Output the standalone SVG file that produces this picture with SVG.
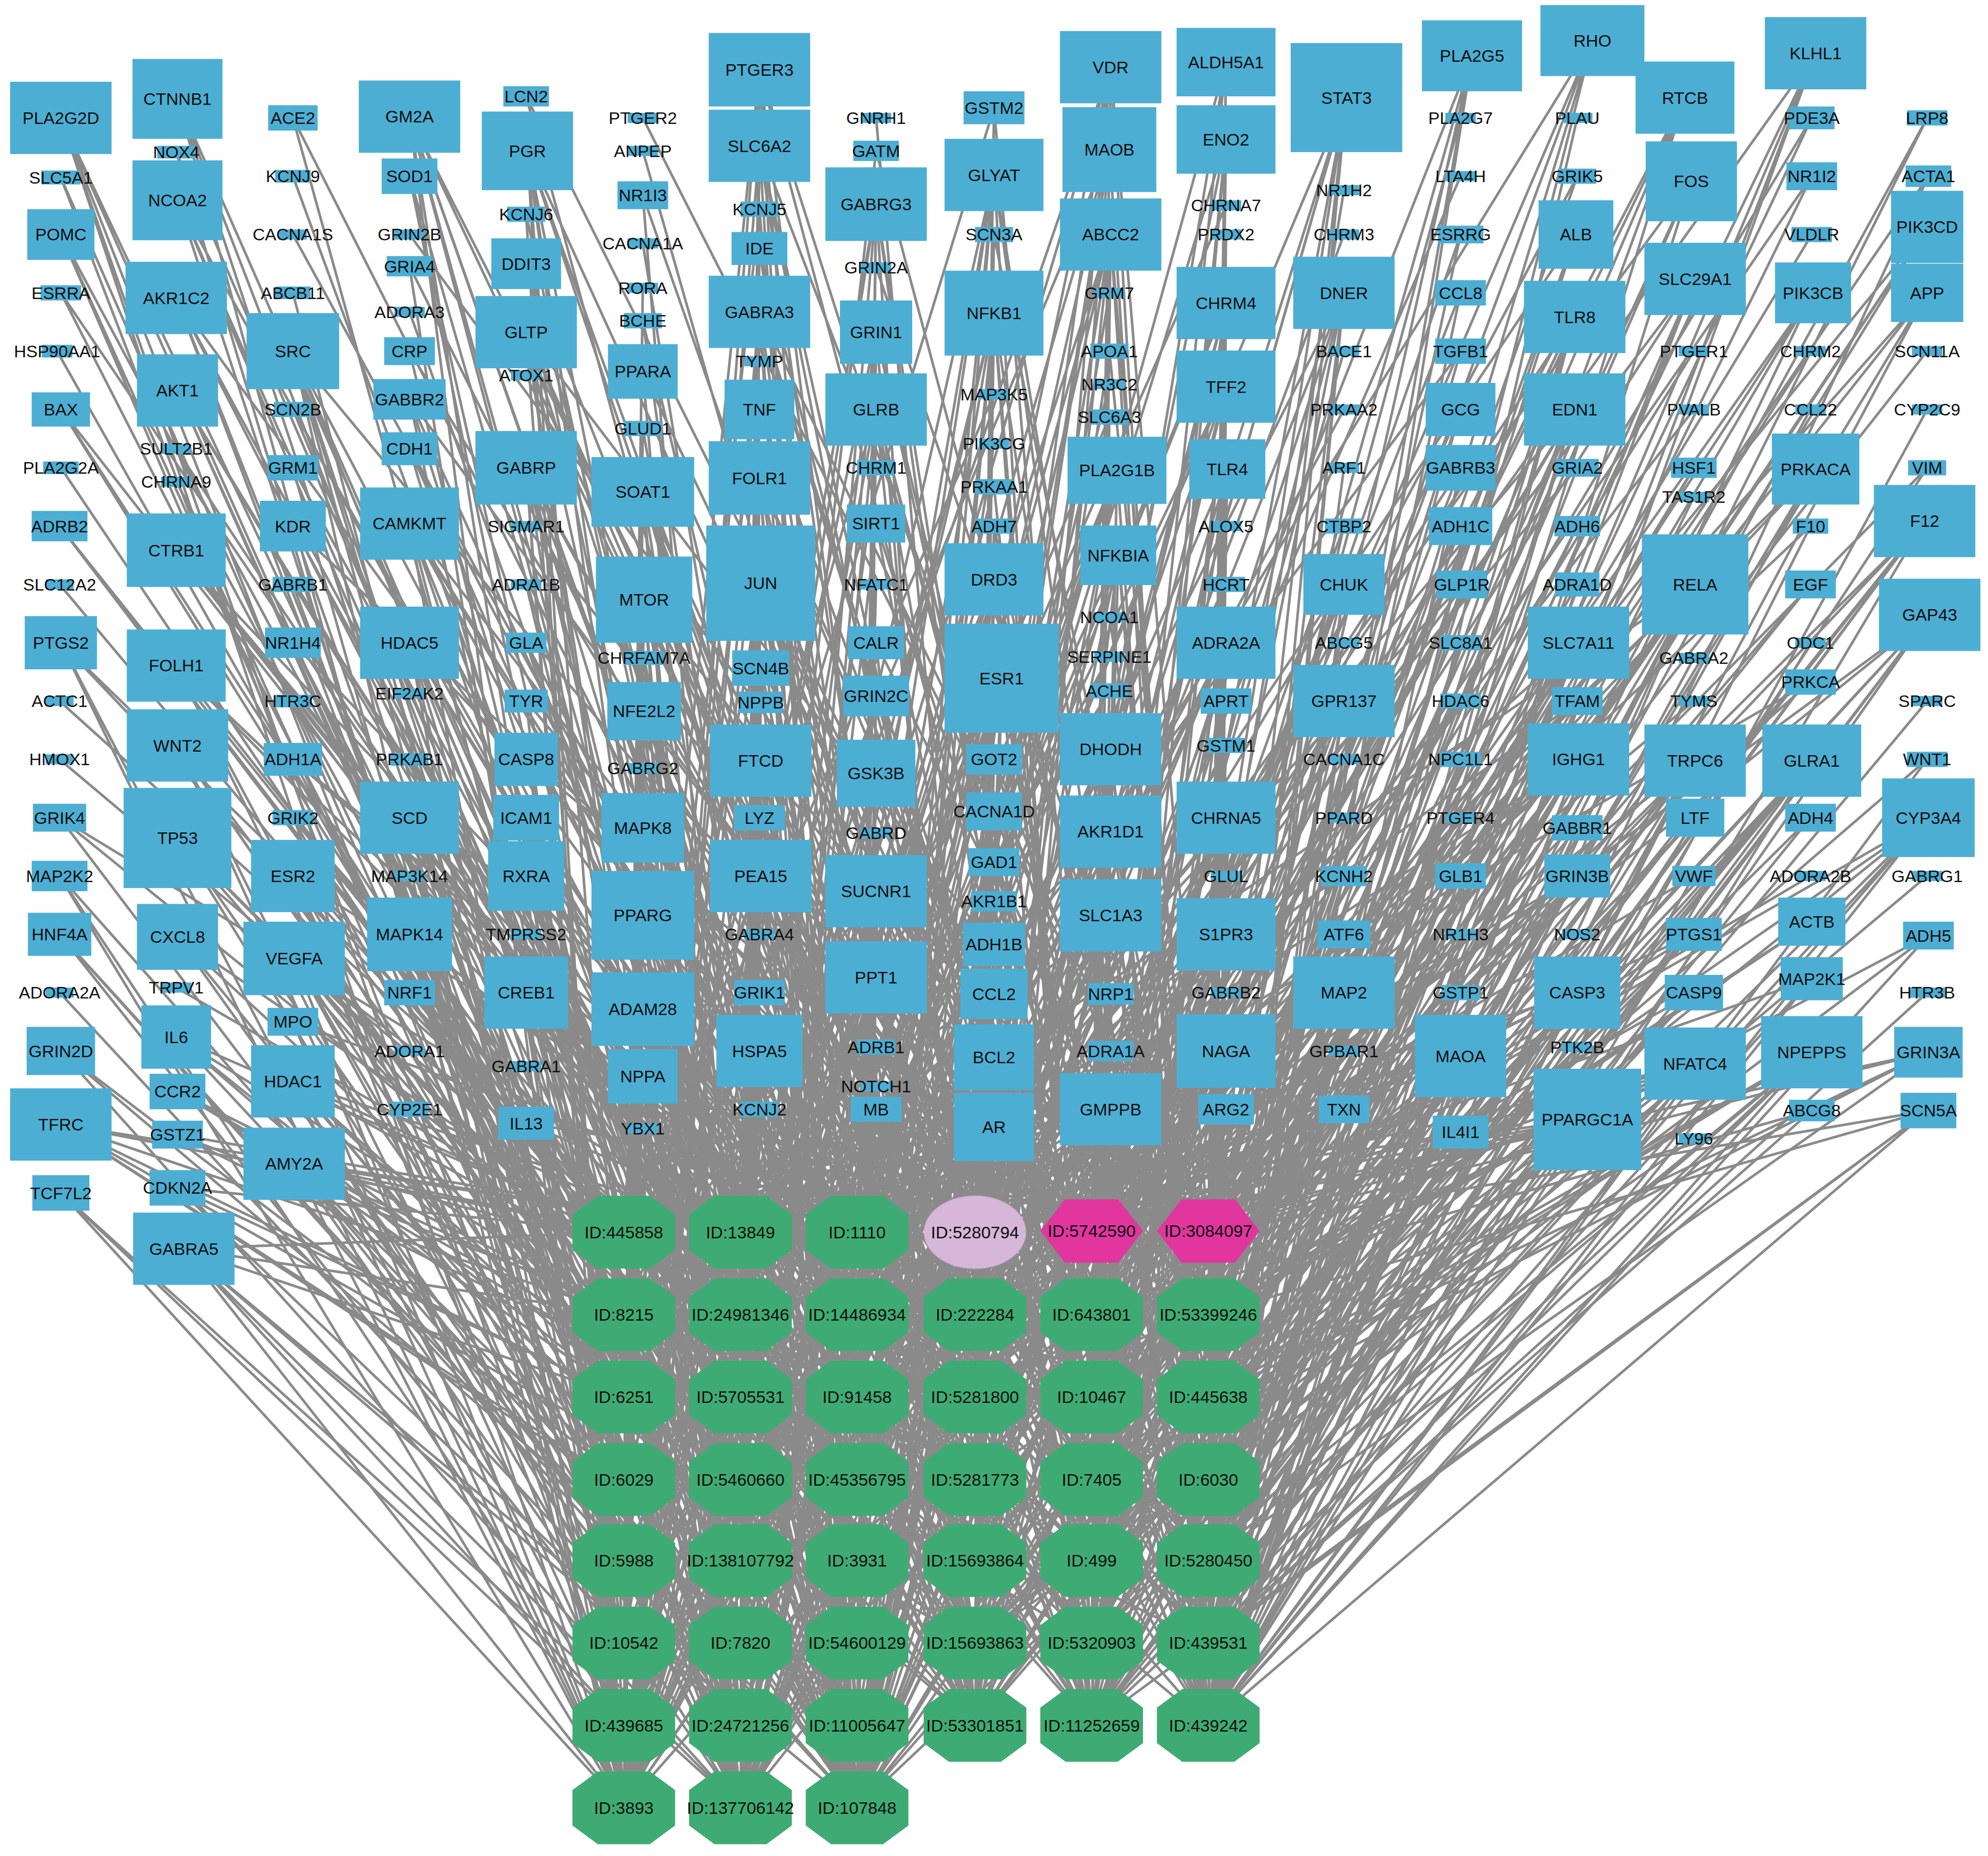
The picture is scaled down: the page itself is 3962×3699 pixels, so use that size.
<svg xmlns="http://www.w3.org/2000/svg" width="3962" height="3699" viewBox="0 0 3962 3699">
<style>
.e path{fill:none;stroke:#8a8a8a;stroke-width:2.05;stroke-linejoin:round;stroke-linecap:round}
.n rect{fill:#4daed3}
.c use{fill:#3fab74}
text{font-family:"Liberation Sans",Arial,sans-serif;font-size:13.46px;text-anchor:middle;dominant-baseline:central;fill:#0d0d0d}
</style>
<defs>
<polygon id="oct" points="-20.5,-28.7 20.5,-28.7 40.5,-14 40.5,14 20.5,28.7 -20.5,28.7 -40.5,14 -40.5,-14"/>
<polygon id="hex" points="-40.4,0 -21,-25 21,-25 40.4,0 21,25 -21,25"/>
</defs>
<rect width="3962" height="3699" fill="#ffffff"/>
<g transform="scale(2.5268,2.5266)">
<g id="connectors" class="e">
<path d="M48 93L492 1426 48 93 492 1361 48 93 584 1296 48 93 492 1231 48 93 676 1426M48 140L492 1296 48 140 584 1361M48 185L492 1167 48 185 584 1426 48 185 676 1361M48 231L492 1102 48 231 769 1296M45 277L584 1231M48 323L492 1037 48 323 676 1296 48 323 861 1361M48 369L584 1167M47 415L492 972 47 415 769 1361 47 415 676 1231M47 461L584 1102M48 507L492 1361 48 507 861 1296 48 507 492 1426 48 507 676 1167M47 553L584 1037M47 599L953 1361M47 645L492 1231 47 645 769 1231 47 645 584 972M47 691L492 1426 47 691 492 1361 47 691 584 1296M47 737L492 1231 47 737 676 1426 47 737 492 1296M47 783L584 1361M48 829L492 1167 48 829 584 1426 48 829 676 1361M48 887L492 1102 48 887 769 1296 48 887 584 1231 48 887 492 1037 48 887 676 1296M48 941L492 1426 48 941 584 1426 48 941 492 1361"/>
<path d="M140 78L584 1426 140 78 492 1361 140 78 676 1296 140 78 584 1231M139 120L492 1296 139 120 676 1361M140 158L584 1167 140 158 676 1426 140 158 492 1231 140 158 769 1296M139 235L584 1102 139 235 584 1361 139 235 492 1167 139 235 861 1231 139 235 676 1231M140 308L584 1037 140 308 492 1102 140 308 769 1361 140 308 584 1296M139 354L676 1167M139 380L492 1037M139 434L861 1296 139 434 584 972 139 434 953 1296 139 434 676 1102 139 434 769 1231M139 525L492 972 139 525 584 1361 139 525 676 1037 139 525 769 1167 139 525 584 1426M140 588L492 1361 140 588 676 1296 140 588 584 1231 140 588 492 1296 140 588 676 1361M140 661L584 1167 140 661 676 1426 140 661 492 1231 140 661 769 1296 140 661 584 1102M140 739L584 1361 140 739 492 1167 140 739 861 1231 140 739 676 1231M139 779L584 1037M139 818L492 1102 139 818 769 1361 139 818 584 1296M140 861L676 1167 140 861 492 1037 140 861 861 1296M140 895L584 972 140 895 953 1296 140 895 676 1102M140 937L769 1231 140 937 492 972 140 937 584 1361M145 985L492 1426 145 985 584 1426 145 985 676 1426 145 985 492 1361 145 985 584 1361"/>
<path d="M231 93L676 972 231 93 492 1037M231 139L584 1102M231 185L769 1167M231 231L492 1231M231 277L676 1296 231 277 584 1361 231 277 492 1426 231 277 861 1037M231 323L676 1102 231 323 584 1167M231 369L492 1296 231 369 769 1361M231 415L584 1426 231 415 676 1231 231 415 953 1102M231 461L492 1167 231 461 769 1296M231 507L584 1231 231 507 676 1361 231 507 861 1167M231 553L584 1037 231 553 492 1102M231 599L953 1231 231 599 676 1426 231 599 769 1037M231 645L584 1296 231 645 861 1361M231 691L492 1361 231 691 676 1167 231 691 676 972 231 691 492 1037M232 756L584 1102 232 756 769 1167 232 756 492 1231 232 756 676 1296 232 756 584 1361M231 806L492 1426 231 806 861 1037M231 853L676 1102 231 853 584 1167 231 853 492 1296 231 853 769 1361M232 918L584 1426 232 918 676 1231 232 918 953 1102 232 918 492 1167 232 918 769 1296"/>
<path d="M323 92L769 972 323 92 584 1037 323 92 676 1102 323 92 492 1167 323 92 861 1231M323 139L584 1296 323 139 676 1361 323 139 584 1426M323 185L953 1037M323 210L769 1102 323 210 492 1296M323 246L676 1231M323 277L861 1167 323 277 584 1361M323 315L769 1296 323 315 676 1426 323 315 492 1102 323 315 953 1167M323 354L584 1231 323 354 769 1361 323 354 676 1037M323 413L861 1296 323 413 492 1361 323 413 584 1167 323 413 953 1231 323 413 676 972M323 507L769 1231 323 507 861 1361 323 507 492 1426 323 507 584 1102 323 507 769 972M323 547L584 1037M323 599L676 1102 323 599 492 1167M323 645L861 1231 323 645 584 1296 323 645 676 1361 323 645 584 1426 323 645 953 1037M323 691L769 1102M323 737L492 1296 323 737 676 1231 323 737 861 1167 323 737 584 1361M323 783L769 1296 323 783 676 1426M323 829L492 1102M323 875L953 1167 323 875 584 1231"/>
<path d="M415 76L861 972 415 76 676 1037M416 119L492 1102 416 119 769 1167 416 119 584 1231 416 119 953 1296M415 169L676 1361 415 169 492 1426M415 208L584 1037 415 208 769 1102 415 208 676 1167M415 262L861 1231 415 262 492 1296 415 262 584 1361 415 262 676 1426 415 262 953 972M415 296L769 1037M415 369L584 1102 415 369 861 1167 415 369 676 1231 415 369 492 1361 415 369 769 1296M415 415L953 1102M415 461L584 1167M415 507L676 1296 415 507 861 1361M415 553L492 1231 415 553 769 972M415 599L584 1426 415 599 953 1231 415 599 861 972M415 645L676 1037 415 645 492 1102 415 645 769 1167M415 691L584 1231 415 691 953 1296 415 691 676 1361 415 691 492 1426M415 737L584 1037M415 783L769 1102 415 783 676 1167 415 783 861 1231 415 783 492 1296M415 841L584 1361M415 886L676 1426 415 886 953 972 415 886 769 1037"/>
<path d="M507 93L953 972M507 119L769 1037M507 154L584 1102 507 154 861 1167M507 192L676 1231M507 227L492 1296M507 253L769 1361 507 253 676 1426M507 293L861 1037 507 293 584 1167 507 293 953 1231M507 338L676 1296 507 338 492 1361M507 388L769 1102 507 388 584 1231 507 388 861 1296 507 388 953 1361 507 388 676 972M508 473L492 1167 508 473 769 1231 508 473 584 1296 508 473 953 1037 508 473 861 1102M508 519L676 1361 508 519 584 1426M508 561L769 1296 508 561 492 1231 508 561 953 1167 508 561 676 1102M507 606L861 972M507 653L953 972 507 653 769 1037 507 653 584 1102 507 653 861 1167M507 722L676 1231 507 722 492 1296 507 722 769 1361 507 722 676 1426 507 722 861 1037M507 796L584 1167 507 796 953 1231 507 796 676 1296 507 796 492 1361 507 796 769 1102M507 849L584 1231 507 849 861 1296 507 849 953 1361M507 890L676 972"/>
<path d="M599 55L676 972 599 55 861 1037 599 55 492 1102 599 55 953 1167 599 55 584 1231M599 115L769 1296 599 115 676 1361 599 115 584 1426 599 115 769 972 599 115 953 1037M599 165L676 1102 599 165 492 1167M599 196L861 1231 599 196 584 1296 599 196 769 1361M599 246L676 1426 599 246 953 972 599 246 584 1037 599 246 861 1102 599 246 676 1167M599 285L492 1231M599 323L953 1296 599 323 584 1361 599 323 492 1426M599 377L861 972 599 377 769 1102 599 377 584 1167 599 377 953 1231 599 377 676 1296M600 460L861 1361 600 460 676 972 600 460 861 1037 600 460 492 1102 600 460 953 1167M600 527L584 1231 600 527 769 1296 600 527 676 1361M600 554L584 1426 600 554 769 972M600 600L953 1037 600 600 676 1102 600 600 492 1167 600 600 861 1231 600 600 584 1296M599 645L769 1361 599 645 676 1426M600 691L953 972 600 691 584 1037 600 691 861 1102 600 691 676 1167 600 691 492 1231M599 737L953 1296M599 783L584 1361 599 783 492 1426M599 829L861 972 599 829 769 1102 599 829 584 1167 599 829 953 1231M599 875L676 1296 599 875 861 1361"/>
<path d="M691 93L769 972M691 119L584 1037 691 119 953 1102M691 161L676 1167 691 161 861 1231 691 161 492 1296 691 161 769 1361 691 161 676 1426M691 211L953 972M691 262L861 1037 691 262 584 1102 691 262 769 1167 691 262 492 1231M691 323L953 1296 691 323 676 1361 691 323 861 972 691 323 492 1037 691 323 769 1102M691 369L584 1167M691 413L953 1231 691 413 861 1296 691 413 584 1361M691 461L676 972M691 507L953 1037 691 507 769 1231 691 507 492 1102M691 549L861 1167 691 549 676 1296 691 549 953 1361M691 610L584 972 691 610 769 972 691 610 584 1037 691 610 953 1102M691 657L676 1167M691 703L861 1231 691 703 492 1296 691 703 769 1361 691 703 676 1426 691 703 953 972M691 771L861 1037 691 771 584 1102 691 771 769 1167 691 771 492 1231 691 771 953 1296M691 826L676 1361M691 857L861 972M691 875L492 1037 691 875 769 1102"/>
<path d="M784 85L861 972 784 85 492 1037 784 85 769 1102M784 138L953 1167 784 138 676 1231 784 138 584 1296 784 138 861 1361 784 138 492 1426M784 185L769 972 784 185 953 1037M784 247L584 1102 784 247 861 1167 784 247 769 1231 784 247 676 1296 784 247 953 1361M784 311L492 972M784 350L676 1037M784 384L861 1102 784 384 584 1167M784 415L953 1231 784 415 769 1296M784 457L492 1361 784 457 584 972 784 457 861 1037 784 457 953 1102 784 457 676 1167M790 535L769 1361 790 535 584 1231 790 535 953 972 790 535 492 1102 790 535 861 972M784 599L492 1037 784 599 769 1102 784 599 953 1167M784 640L676 1231 784 640 584 1296 784 640 861 1361M784 680L492 1426 784 680 769 972 784 680 953 1037M784 711L584 1102 784 711 861 1167M784 745L769 1231 784 745 676 1296 784 745 953 1361M784 784L492 972 784 784 676 1037 784 784 861 1102M784 834L584 1167 784 834 953 1231 784 834 769 1296 784 834 492 1361M784 889L584 972 784 889 861 1037 784 889 953 1102 784 889 676 1167"/>
<path d="M876 53L953 972 876 53 584 1037 876 53 861 1102 876 53 492 1167 876 53 769 1231M875 118L953 1296 875 118 676 1361 875 118 584 1426 875 118 861 972 875 118 492 1037M876 185L953 1102 876 185 769 1167 876 185 584 1231 876 185 861 1296 876 185 492 1361M875 231L676 1426M875 277L953 1037 875 277 769 972M875 303L676 1102M875 329L861 1167 875 329 492 1231M881 371L584 1296 881 371 953 1361 881 371 676 972 881 371 769 1037 881 371 584 1102M882 438L953 1167 882 438 861 1231 882 438 492 1296 882 438 769 1361M875 487L953 972M875 518L584 1037M875 545L861 1102 875 545 492 1167M876 591L769 1231 876 591 953 1296 876 591 676 1361 876 591 584 1426 876 591 861 972M876 656L492 1037 876 656 953 1102 876 656 769 1167 876 656 584 1231 876 656 861 1296M876 722L492 1361 876 722 676 1426 876 722 953 1037 876 722 769 972 876 722 676 1102M876 784L861 1167 876 784 492 1231M876 829L584 1296 876 829 953 1361M876 875L676 972 876 875 769 1037 876 875 584 1102 876 875 953 1167 876 875 861 1231"/>
<path d="M967 49L953 972 967 49 861 1037 967 49 676 1102 967 49 953 1167 967 49 769 1231M967 110L861 1296 967 110 584 1361 967 110 953 1037 967 110 769 1102 967 110 861 1167M967 162L492 1231M967 185L953 1296M967 239L676 1361 967 239 861 972 967 239 769 1037 967 239 953 1102 967 239 584 1167M967 305L861 1231 967 305 953 1361 967 305 676 972 967 305 769 1167 967 305 492 1296M968 370L953 1231 968 370 861 1102 968 370 676 1037 968 370 769 1296M967 415L953 972M967 461L584 1231 967 461 861 1361M967 507L676 1167 967 507 953 972 967 507 861 1037 967 507 676 1102 967 507 953 1167M967 553L769 1231 967 553 861 1296M967 588L584 1361 967 588 953 1037M967 645L769 1102 967 645 861 1167 967 645 492 1231 967 645 953 1296 967 645 676 1361M967 691L861 972M967 737L769 1037 967 737 953 1102 967 737 584 1167 967 737 861 1231 967 737 953 1361M967 783L676 972M967 829L769 1167 967 829 492 1296 967 829 953 1231 967 829 861 1102 967 829 676 1037M967 875L769 1296 967 875 953 972 967 875 584 1231"/>
<path d="M1062 77L953 1037 1062 77 769 1102 1062 77 861 1167 1062 77 953 1231 1062 77 676 1296M1060 150L861 1361M1060 185L769 972M1060 231L953 1102 1060 231 584 1167 1060 231 861 1231 1060 231 953 1296 1060 231 769 1361M1060 277L861 972M1060 323L676 1037M1060 369L953 1167M1060 415L769 1231 1060 415 861 1296M1060 461L953 1361 1060 461 676 1102 1060 461 861 1037 1060 461 769 1167M1060 507L953 972M1060 553L584 1231 1060 553 861 1102 1060 553 492 1361 1060 553 953 1231 1060 553 769 1037M1060 599L676 1167M1060 645L861 972M1060 691L953 1102 1060 691 953 1037M1060 737L769 1102 1060 737 861 1167 1060 737 953 1231M1060 783L676 1296 1060 783 861 1361 1060 783 769 972 1060 783 953 1102 1060 783 584 1167M1060 829L861 1231M1060 875L953 1296 1060 875 769 1361"/>
<path d="M1161 44L953 972 1161 44 861 1102 1161 44 953 1231 1161 44 769 1037 1161 44 953 1361M1152 93L861 1167M1152 139L676 1231M1152 185L953 1102 1152 185 769 1296M1152 231L861 972 1152 231 953 1167M1152 277L584 1037 1152 277 861 1296M1152 323L953 1037 1152 323 769 1167 1152 323 861 1231M1152 369L953 1296 1152 369 676 1102 1152 369 769 1361M1152 415L953 972 1152 415 861 1037 1152 415 769 1231M1153 461L953 1102 1153 461 676 972M1152 507L861 1361 1152 507 953 1167M1152 553L769 1102 1152 553 584 1231M1152 599L953 1231 1152 599 861 1296M1152 645L953 972M1152 691L861 1102 1152 691 953 1231M1152 737L769 1037M1152 783L953 1361 1152 783 861 1167M1152 833L676 1231 1152 833 953 1102 1152 833 769 1296 1152 833 861 972M1152 893L953 1167 1152 893 584 1037 1152 893 861 1296"/>
<path d="M1256 32L953 1037 1256 32 861 1102 1256 32 769 1167 1256 32 953 1231 1256 32 676 972M1244 93L953 1361M1244 139L861 1231 1244 139 769 1037M1243 185L953 1102 1243 185 584 1167 1243 185 861 1296 1243 185 953 972M1242 250L769 1231 1242 250 953 1296 1242 250 676 1102 1242 250 861 1037 1242 250 953 1167M1242 323L769 1361 1242 323 861 972 1242 323 584 1102 1242 323 953 1231 1242 323 769 1102M1244 369L861 1361 1244 369 676 1037M1244 415L953 1037 1244 415 861 1167M1244 461L769 1296 1244 461 953 1361M1245 507L492 1167 1245 507 861 1102 1245 507 953 1037 1245 507 769 1167 1245 507 953 1231M1244 553L676 972 1244 553 953 1361 1244 553 861 1231M1245 599L769 1037 1245 599 953 1102 1245 599 584 1167 1245 599 861 1296 1245 599 953 972M1244 653L769 1231 1244 653 953 1296M1244 691L676 1102 1244 691 861 1037 1244 691 953 1167M1244 737L769 1361M1244 783L861 972 1244 783 584 1102 1244 783 953 1231 1244 783 769 1102M1244 826L861 1361M1252 883L676 1037 1252 883 953 1037 1252 883 861 1167 1252 883 769 1296 1252 883 953 1361"/>
<path d="M1329 77L953 1102 1329 77 861 1167 1329 77 769 1231 1329 77 953 1296 1329 77 861 972M1334 143L953 1361 1334 143 676 1037 1334 143 861 1231 1334 143 953 972M1337 220L769 1102 1337 220 953 1167 1337 220 861 1296 1337 220 769 972 1337 220 953 1231M1336 277L861 1037M1336 323L676 1167M1336 369L953 1037 1336 369 769 1296M1336 392L861 1361M1337 461L953 1102 1337 461 584 972 1337 461 861 1102 1337 461 953 1361 1337 461 769 1037M1336 519L953 1231M1336 553L676 1102M1337 600L861 1167 1337 600 953 1296 1337 600 769 1167 1337 600 861 972 1337 600 953 1102M1337 645L861 1167 1337 645 769 1231 1337 645 953 1296M1336 691L861 972 1336 691 953 1361M1336 737L676 1037 1336 737 861 1231 1336 737 953 972M1336 783L769 1102 1336 783 953 1167 1336 783 861 1296M1337 839L769 972 1337 839 953 1231 1337 839 861 1037 1337 839 676 1167 1337 839 953 1037M1336 898L769 1296"/>
<path d="M1432 42L953 1167 1432 42 861 1231 1432 42 953 1296 1432 42 769 972 1432 42 953 1361M1429 93L861 1037 1429 93 953 1102M1429 139L676 1231 1429 139 861 1296M1429 185L953 972M1430 231L769 1167 1430 231 953 1231 1430 231 861 1102 1430 231 953 1037M1428 277L769 1296M1428 323L861 1361M1432 370L953 1167 1432 370 676 1102 1432 370 861 972 1432 370 953 1231M1428 415L769 1037 1428 415 953 1361M1428 461L861 1167 1428 461 769 1231M1428 507L953 1296M1428 538L861 1037 1428 538 676 972M1429 600L953 1102 1429 600 769 1361 1429 600 861 1231 1429 600 953 1167 1429 600 861 1296M1428 645L953 1231 1428 645 769 1296M1428 691L953 972M1429 728L861 1102 1429 728 953 1037 1429 728 769 1167M1429 772L953 1361 1429 772 861 972 1429 772 953 1296M1429 830L769 1231 1429 830 953 1102 1429 830 861 1167 1429 830 953 1231 1429 830 861 1361M1429 876L953 1296 1429 876 861 1037"/>
<path d="M1520 93L953 1231 1520 93 861 1296M1521 139L953 1361 1521 139 953 972M1520 179L769 1102 1520 179 953 1037 1520 179 861 1167 1520 179 953 1102M1520 231L676 1296 1520 231 953 1167 1520 231 861 972 1520 231 953 1296M1520 277L769 1231M1520 323L953 1361M1520 369L861 1037 1520 369 953 1231M1518 411L861 1102 1518 411 769 1361 1518 411 953 972 1518 411 861 1231 1518 411 953 1167M1522 485L676 1167 1522 485 953 1102 1522 485 861 1361 1522 485 953 1296 1522 485 769 1037M1520 553L953 1231M1520 599L861 1167 1520 599 953 1361M1521 645L861 1296 1521 645 953 972 1521 645 861 1102 1521 645 953 1102M1520 691L953 1167M1521 738L953 1037 1521 738 861 1231 1521 738 953 1361M1520 783L953 1296M1521 830L953 1231 1521 830 861 1167 1521 830 953 1102M1521 876L953 1361 1521 876 953 1296 1521 876 861 1361"/>
<path d="M231 277L584 1426 231 277 676 1361 231 277 769 1296 231 277 492 1231M231 691L584 1426 231 691 676 1426 231 691 492 1296M232 756L492 1426 232 756 676 1426 232 756 769 1361M231 853L492 1426 231 853 584 1426 231 853 676 1361M232 918L492 1426 232 918 584 1361 232 918 676 1426M323 92L492 1426 323 92 676 1426 323 92 769 1361M323 413L584 1426 323 413 676 1296 323 413 769 1231M323 507L676 1426 323 507 584 1361 323 507 492 1231M323 645L492 1426 323 645 676 1426 323 645 769 1361 323 645 492 1361M323 737L492 1426 323 737 584 1426 323 737 676 1426M416 119L492 1426 416 119 584 1361 416 119 676 1426 416 119 861 1361M415 262L584 1426 415 262 769 1361 415 262 861 1296M415 369L492 1426 415 369 584 1426 415 369 676 1426 415 369 953 1361M415 691L584 1426 415 691 676 1426 415 691 769 1361 415 691 861 1361M415 783L492 1426 415 783 584 1426 415 783 676 1426 415 783 769 1361M507 388L492 1426 507 388 676 1426 507 388 584 1361 507 388 769 1296M508 473L492 1426 508 473 584 1426 508 473 676 1361 508 473 861 1361M508 561L492 1426 508 561 584 1426 508 561 676 1426 508 561 861 1296M507 653L492 1426 507 653 676 1426 507 653 769 1361 507 653 953 1361M507 722L492 1426 507 722 584 1426 507 722 953 1296 507 722 861 1361M507 796L492 1426 507 796 584 1426 507 796 676 1426 507 796 861 1296M507 849L492 1426 507 849 584 1426 507 849 676 1426"/>
<path d="M599 55L492 1426 599 55 676 1426 599 55 769 1361M599 115L492 1426 599 115 584 1361 599 115 861 1296M599 246L492 1426 599 246 584 1426 599 246 769 1361 599 246 953 1361M599 377L492 1426 599 377 584 1426 599 377 676 1426 599 377 769 1361M600 460L492 1426 600 460 584 1426 600 460 676 1426 600 460 769 1296 600 460 953 1361M600 600L492 1426 600 600 676 1426 600 600 769 1361 600 600 953 1361M600 691L492 1426 600 691 584 1426 600 691 676 1426 600 691 861 1361M599 829L492 1426 599 829 584 1426 599 829 676 1426 599 829 769 1361M691 161L492 1426 691 161 584 1426 691 161 861 1361M691 262L584 1426 691 262 676 1426 691 262 953 1361M691 323L492 1426 691 323 584 1426 691 323 676 1426 691 323 861 1296M691 610L492 1426 691 610 584 1426 691 610 676 1426 691 610 861 1361M691 703L492 1426 691 703 584 1426 691 703 676 1361 691 703 953 1361M691 771L492 1426 691 771 584 1426 691 771 676 1426 691 771 861 1361M784 138L584 1426 784 138 676 1426 784 138 953 1361M784 247L492 1426 784 247 584 1426 784 247 676 1426 784 247 861 1296M784 457L492 1426 784 457 584 1426 784 457 676 1426 784 457 769 1361M790 535L492 1426 790 535 584 1426 790 535 676 1426 790 535 953 1361 790 535 861 1296M784 784L584 1426 784 784 676 1426 784 784 861 1361M784 834L492 1426 784 834 584 1426 784 834 676 1426 784 834 861 1361M784 889L492 1426 784 889 584 1426 784 889 676 1426 784 889 769 1361"/>
<path d="M876 53L584 1426 876 53 676 1426 876 53 953 1361M875 118L492 1426 875 118 676 1426 875 118 769 1361M876 185L584 1426 876 185 676 1426 876 185 953 1361M881 371L492 1426 881 371 676 1426 881 371 861 1361M882 438L584 1426 882 438 676 1426 882 438 953 1296M876 591L492 1426 876 591 676 1426 876 591 861 1361 876 591 953 1361M876 656L492 1426 876 656 584 1426 876 656 676 1426 876 656 769 1361M876 722L584 1426 876 722 861 1361 876 722 953 1296M876 875L492 1426 876 875 584 1426 876 875 676 1426 876 875 861 1361M967 239L492 1426 967 239 676 1426 967 239 953 1361M967 305L584 1426 967 305 676 1426 967 305 861 1361M967 507L492 1426 967 507 584 1426 967 507 769 1361 967 507 861 1361M967 645L584 1426 967 645 676 1426 967 645 861 1361 967 645 953 1361M967 737L492 1426 967 737 584 1426 967 737 676 1426 967 737 769 1296M967 829L584 1426 967 829 676 1426 967 829 769 1361 967 829 953 1296M1062 77L492 1426 1062 77 676 1426 1062 77 861 1361M1060 231L584 1426 1060 231 676 1426 1060 231 953 1361M1060 553L584 1426 1060 553 676 1426 1060 553 861 1361 1060 553 953 1361M1060 783L492 1426 1060 783 676 1426 1060 783 953 1361M1060 461L676 1426 1060 461 861 1296 1060 461 953 1296M1152 833L676 1426 1152 833 861 1361 1152 833 953 1361M1245 507L676 1426 1245 507 861 1361 1245 507 953 1296M1245 599L584 1426 1245 599 769 1361 1245 599 953 1361M1244 783L676 1426 1244 783 861 1296 1244 783 953 1361M1252 883L676 1426 1252 883 861 1361 1252 883 953 1296M1242 250L676 1426 1242 250 861 1361 1242 250 953 1361M1242 323L584 1426 1242 323 861 1296 1242 323 953 1296M1337 461L676 1426 1337 461 861 1361 1337 461 953 1296M1337 600L769 1361 1337 600 861 1361 1337 600 953 1361M1337 839L861 1361 1337 839 953 1361 1337 839 769 1296M1429 600L953 1361 1429 600 861 1361 1429 600 769 1296M1429 830L953 1361 1429 830 953 1296 1429 830 861 1296M1518 411L953 1361 1518 411 861 1296M1522 485L953 1231 1522 485 769 1296M1521 645L953 1361 1521 645 953 1296 1521 645 861 1361"/>
<path d="M507 796L492 972 507 796 584 972 507 796 676 1037M507 849L492 1037 507 849 769 972M599 829L492 972 599 829 676 972 599 829 584 1037M691 771L492 972 691 771 584 972 691 771 676 972 691 771 769 1037M784 889L492 1037 784 889 769 972 784 889 861 972M784 834L676 972 784 834 492 1102M876 875L492 972 876 875 584 972 876 875 769 972M967 829L492 972 967 829 584 1037 967 829 861 972M1060 783L492 972 1060 783 676 972 1060 783 861 1037M1060 875L676 1037 1060 875 861 972M1152 833L584 972 1152 833 769 972 1152 833 953 1037M1252 883L584 972 1252 883 769 972 1252 883 861 972 1252 883 953 972M1244 783L676 972 1244 783 861 972M1337 839L861 972 1337 839 953 972 1337 839 953 1102M691 703L492 972 691 703 584 1037M600 691L492 972 600 691 676 972M507 722L492 972 507 722 584 972 507 722 769 972M415 783L492 972 415 783 584 972M232 918L492 972 232 918 584 972 232 918 492 1037M231 853L492 972 231 853 584 972M139 818L492 972 139 818 492 1037M48 887L492 972 48 887 584 972M145 985L492 972 145 985 492 1037 145 985 492 1102M967 737L676 972 967 737 861 1037M876 722L584 972 876 722 861 972M790 535L676 972 790 535 769 1037 790 535 584 1037M600 460L584 972 600 460 769 972M1521 830L861 972 1521 830 953 972M1521 876L953 972 1521 876 953 1037M1244 691L769 972 1244 691 861 972M1245 599L676 972 1245 599 769 972"/>
</g>
<g id="genes">
<g id="PLA2G2D" class="n" transform="translate(48 93)"><rect x="-40" y="-28.5" width="80" height="57"/><text>PLA2G2D</text></g>
<g id="SLC5A1" class="n" transform="translate(48 140)"><rect x="-15.5" y="-5.5" width="31" height="11"/><text>SLC5A1</text></g>
<g id="POMC" class="n" transform="translate(48 185)"><rect x="-26.5" y="-20" width="53" height="40"/><text>POMC</text></g>
<g id="ESRRA" class="n" transform="translate(48 231)"><rect x="-16" y="-6" width="32" height="12"/><text>ESRRA</text></g>
<g id="HSP90AA1" class="n" transform="translate(45 277)"><rect x="-12" y="-5" width="24" height="10"/><text>HSP90AA1</text></g>
<g id="BAX" class="n" transform="translate(48 323)"><rect x="-23" y="-13.5" width="46" height="27"/><text>BAX</text></g>
<g id="PLA2G2A" class="n" transform="translate(48 369)"><rect x="-14" y="-5" width="28" height="10"/><text>PLA2G2A</text></g>
<g id="ADRB2" class="n" transform="translate(47 415)"><rect x="-22" y="-12" width="44" height="24"/><text>ADRB2</text></g>
<g id="SLC12A2" class="n" transform="translate(47 461)"><rect x="-11" y="-4" width="22" height="8"/><text>SLC12A2</text></g>
<g id="PTGS2" class="n" transform="translate(48 507)"><rect x="-28.5" y="-21" width="57" height="42"/><text>PTGS2</text></g>
<g id="ACTC1" class="n" transform="translate(47 553)"><rect x="-11" y="-4" width="22" height="8"/><text>ACTC1</text></g>
<g id="HMOX1" class="n" transform="translate(47 599)"><rect x="-11" y="-4" width="22" height="8"/><text>HMOX1</text></g>
<g id="GRIK4" class="n" transform="translate(47 645)"><rect x="-21" y="-11" width="42" height="22"/><text>GRIK4</text></g>
<g id="MAP2K2" class="n" transform="translate(47 691)"><rect x="-22" y="-12" width="44" height="24"/><text>MAP2K2</text></g>
<g id="HNF4A" class="n" transform="translate(47 737)"><rect x="-25" y="-17" width="50" height="34"/><text>HNF4A</text></g>
<g id="ADORA2A" class="n" transform="translate(47 783)"><rect x="-11" y="-4" width="22" height="8"/><text>ADORA2A</text></g>
<g id="GRIN2D" class="n" transform="translate(48 829)"><rect x="-27" y="-19" width="54" height="38"/><text>GRIN2D</text></g>
<g id="TFRC" class="n" transform="translate(48 887)"><rect x="-40" y="-28.5" width="80" height="57"/><text>TFRC</text></g>
<g id="TCF7L2" class="n" transform="translate(48 941)"><rect x="-22.5" y="-14" width="45" height="28"/><text>TCF7L2</text></g>
<g id="CTNNB1" class="n" transform="translate(140 78)"><rect x="-35.5" y="-31.5" width="71" height="63"/><text>CTNNB1</text></g>
<g id="NOX4" class="n" transform="translate(139 120)"><rect x="-15" y="-5" width="30" height="10"/><text>NOX4</text></g>
<g id="NCOA2" class="n" transform="translate(140 158)"><rect x="-35.5" y="-31.5" width="71" height="63"/><text>NCOA2</text></g>
<g id="AKR1C2" class="n" transform="translate(139 235)"><rect x="-40" y="-28.5" width="80" height="57"/><text>AKR1C2</text></g>
<g id="AKT1" class="n" transform="translate(140 308)"><rect x="-32" y="-28.5" width="64" height="57"/><text>AKT1</text></g>
<g id="SULT2B1" class="n" transform="translate(139 354)"><rect x="-12" y="-4" width="24" height="8"/><text>SULT2B1</text></g>
<g id="CHRNA9" class="n" transform="translate(139 380)"><rect x="-12" y="-4" width="24" height="8"/><text>CHRNA9</text></g>
<g id="CTRB1" class="n" transform="translate(139 434)"><rect x="-39" y="-29" width="78" height="58"/><text>CTRB1</text></g>
<g id="FOLH1" class="n" transform="translate(139 525)"><rect x="-39" y="-28.5" width="78" height="57"/><text>FOLH1</text></g>
<g id="WNT2" class="n" transform="translate(140 588)"><rect x="-40" y="-28.5" width="80" height="57"/><text>WNT2</text></g>
<g id="TP53" class="n" transform="translate(140 661)"><rect x="-42.5" y="-39.5" width="85" height="79"/><text>TP53</text></g>
<g id="CXCL8" class="n" transform="translate(140 739)"><rect x="-32" y="-26" width="64" height="52"/><text>CXCL8</text></g>
<g id="TRPV1" class="n" transform="translate(139 779)"><rect x="-12" y="-4" width="24" height="8"/><text>TRPV1</text></g>
<g id="IL6" class="n" transform="translate(139 818)"><rect x="-27.5" y="-25" width="55" height="50"/><text>IL6</text></g>
<g id="CCR2" class="n" transform="translate(140 861)"><rect x="-22" y="-14" width="44" height="28"/><text>CCR2</text></g>
<g id="GSTZ1" class="n" transform="translate(140 895)"><rect x="-20" y="-11" width="40" height="22"/><text>GSTZ1</text></g>
<g id="CDKN2A" class="n" transform="translate(140 937)"><rect x="-22" y="-14" width="44" height="28"/><text>CDKN2A</text></g>
<g id="GABRA5" class="n" transform="translate(145 985)"><rect x="-40" y="-28.5" width="80" height="57"/><text>GABRA5</text></g>
<g id="ACE2" class="n" transform="translate(231 93)"><rect x="-19.5" y="-10" width="39" height="20"/><text>ACE2</text></g>
<g id="KCNJ9" class="n" transform="translate(231 139)"><rect x="-14" y="-5" width="28" height="10"/><text>KCNJ9</text></g>
<g id="CACNA1S" class="n" transform="translate(231 185)"><rect x="-11" y="-4" width="22" height="8"/><text>CACNA1S</text></g>
<g id="ABCB11" class="n" transform="translate(231 231)"><rect x="-14" y="-5" width="28" height="10"/><text>ABCB11</text></g>
<g id="SRC" class="n" transform="translate(231 277)"><rect x="-36.5" y="-30" width="73" height="60"/><text>SRC</text></g>
<g id="SCN2B" class="n" transform="translate(231 323)"><rect x="-15" y="-6" width="30" height="12"/><text>SCN2B</text></g>
<g id="GRM1" class="n" transform="translate(231 369)"><rect x="-20" y="-10" width="40" height="20"/><text>GRM1</text></g>
<g id="KDR" class="n" transform="translate(231 415)"><rect x="-26" y="-20" width="52" height="40"/><text>KDR</text></g>
<g id="GABRB1" class="n" transform="translate(231 461)"><rect x="-16" y="-6" width="32" height="12"/><text>GABRB1</text></g>
<g id="NR1H4" class="n" transform="translate(231 507)"><rect x="-22" y="-12" width="44" height="24"/><text>NR1H4</text></g>
<g id="HTR3C" class="n" transform="translate(231 553)"><rect x="-15" y="-5" width="30" height="10"/><text>HTR3C</text></g>
<g id="ADH1A" class="n" transform="translate(231 599)"><rect x="-23" y="-13" width="46" height="26"/><text>ADH1A</text></g>
<g id="GRIK2" class="n" transform="translate(231 645)"><rect x="-16" y="-6" width="32" height="12"/><text>GRIK2</text></g>
<g id="ESR2" class="n" transform="translate(231 691)"><rect x="-33" y="-28.5" width="66" height="57"/><text>ESR2</text></g>
<g id="VEGFA" class="n" transform="translate(232 756)"><rect x="-40" y="-29" width="80" height="58"/><text>VEGFA</text></g>
<g id="MPO" class="n" transform="translate(231 806)"><rect x="-20" y="-11" width="40" height="22"/><text>MPO</text></g>
<g id="HDAC1" class="n" transform="translate(231 853)"><rect x="-33" y="-28.5" width="66" height="57"/><text>HDAC1</text></g>
<g id="AMY2A" class="n" transform="translate(232 918)"><rect x="-40" y="-28.5" width="80" height="57"/><text>AMY2A</text></g>
<g id="GM2A" class="n" transform="translate(323 92)"><rect x="-40" y="-28.5" width="80" height="57"/><text>GM2A</text></g>
<g id="SOD1" class="n" transform="translate(323 139)"><rect x="-22" y="-14" width="44" height="28"/><text>SOD1</text></g>
<g id="GRIN2B" class="n" transform="translate(323 185)"><rect x="-12" y="-4" width="24" height="8"/><text>GRIN2B</text></g>
<g id="GRIA4" class="n" transform="translate(323 210)"><rect x="-18" y="-8" width="36" height="16"/><text>GRIA4</text></g>
<g id="ADORA3" class="n" transform="translate(323 246)"><rect x="-12" y="-4" width="24" height="8"/><text>ADORA3</text></g>
<g id="CRP" class="n" transform="translate(323 277)"><rect x="-20" y="-11" width="40" height="22"/><text>CRP</text></g>
<g id="GABBR2" class="n" transform="translate(323 315)"><rect x="-28.5" y="-16" width="57" height="32"/><text>GABBR2</text></g>
<g id="CDH1" class="n" transform="translate(323 354)"><rect x="-22" y="-13" width="44" height="26"/><text>CDH1</text></g>
<g id="CAMKMT" class="n" transform="translate(323 413)"><rect x="-39" y="-28.5" width="78" height="57"/><text>CAMKMT</text></g>
<g id="HDAC5" class="n" transform="translate(323 507)"><rect x="-39" y="-28.5" width="78" height="57"/><text>HDAC5</text></g>
<g id="EIF2AK2" class="n" transform="translate(323 547)"><rect x="-12" y="-4" width="24" height="8"/><text>EIF2AK2</text></g>
<g id="PRKAB1" class="n" transform="translate(323 599)"><rect x="-15" y="-5" width="30" height="10"/><text>PRKAB1</text></g>
<g id="SCD" class="n" transform="translate(323 645)"><rect x="-39" y="-28.5" width="78" height="57"/><text>SCD</text></g>
<g id="MAP3K14" class="n" transform="translate(323 691)"><rect x="-12" y="-4" width="24" height="8"/><text>MAP3K14</text></g>
<g id="MAPK14" class="n" transform="translate(323 737)"><rect x="-33.5" y="-29" width="67" height="58"/><text>MAPK14</text></g>
<g id="NRF1" class="n" transform="translate(323 783)"><rect x="-20" y="-10" width="40" height="20"/><text>NRF1</text></g>
<g id="ADORA1" class="n" transform="translate(323 829)"><rect x="-12" y="-4" width="24" height="8"/><text>ADORA1</text></g>
<g id="CYP2E1" class="n" transform="translate(323 875)"><rect x="-15" y="-6" width="30" height="12"/><text>CYP2E1</text></g>
<g id="LCN2" class="n" transform="translate(415 76)"><rect x="-18" y="-8" width="36" height="16"/><text>LCN2</text></g>
<g id="PGR" class="n" transform="translate(416 119)"><rect x="-36" y="-31" width="72" height="62"/><text>PGR</text></g>
<g id="KCNJ6" class="n" transform="translate(415 169)"><rect x="-15" y="-6" width="30" height="12"/><text>KCNJ6</text></g>
<g id="DDIT3" class="n" transform="translate(415 208)"><rect x="-27.5" y="-20" width="55" height="40"/><text>DDIT3</text></g>
<g id="GLTP" class="n" transform="translate(415 262)"><rect x="-40" y="-28.5" width="80" height="57"/><text>GLTP</text></g>
<g id="ATOX1" class="n" transform="translate(415 296)"><rect x="-12" y="-4" width="24" height="8"/><text>ATOX1</text></g>
<g id="GABRP" class="n" transform="translate(415 369)"><rect x="-40" y="-29" width="80" height="58"/><text>GABRP</text></g>
<g id="SIGMAR1" class="n" transform="translate(415 415)"><rect x="-12" y="-4" width="24" height="8"/><text>SIGMAR1</text></g>
<g id="ADRA1B" class="n" transform="translate(415 461)"><rect x="-12" y="-4" width="24" height="8"/><text>ADRA1B</text></g>
<g id="GLA" class="n" transform="translate(415 507)"><rect x="-16" y="-8" width="32" height="16"/><text>GLA</text></g>
<g id="TYR" class="n" transform="translate(415 553)"><rect x="-17" y="-9" width="34" height="18"/><text>TYR</text></g>
<g id="CASP8" class="n" transform="translate(415 599)"><rect x="-25" y="-21" width="50" height="42"/><text>CASP8</text></g>
<g id="ICAM1" class="n" transform="translate(415 645)"><rect x="-26" y="-18" width="52" height="36"/><text>ICAM1</text></g>
<g id="RXRA" class="n" transform="translate(415 691)"><rect x="-30" y="-27.5" width="60" height="55"/><text>RXRA</text></g>
<g id="TMPRSS2" class="n" transform="translate(415 737)"><rect x="-12" y="-4" width="24" height="8"/><text>TMPRSS2</text></g>
<g id="CREB1" class="n" transform="translate(415 783)"><rect x="-33" y="-28.5" width="66" height="57"/><text>CREB1</text></g>
<g id="GABRA1" class="n" transform="translate(415 841)"><rect x="-12" y="-4" width="24" height="8"/><text>GABRA1</text></g>
<g id="IL13" class="n" transform="translate(415 886)"><rect x="-22" y="-13" width="44" height="26"/><text>IL13</text></g>
<g id="PTGER2" class="n" transform="translate(507 93)"><rect x="-12" y="-4" width="24" height="8"/><text>PTGER2</text></g>
<g id="ANPEP" class="n" transform="translate(507 119)"><rect x="-12" y="-4" width="24" height="8"/><text>ANPEP</text></g>
<g id="NR1I3" class="n" transform="translate(507 154)"><rect x="-20" y="-11" width="40" height="22"/><text>NR1I3</text></g>
<g id="CACNA1A" class="n" transform="translate(507 192)"><rect x="-12" y="-4" width="24" height="8"/><text>CACNA1A</text></g>
<g id="RORA" class="n" transform="translate(507 227)"><rect x="-12" y="-4" width="24" height="8"/><text>RORA</text></g>
<g id="BCHE" class="n" transform="translate(507 253)"><rect x="-15" y="-6" width="30" height="12"/><text>BCHE</text></g>
<g id="PPARA" class="n" transform="translate(507 293)"><rect x="-27.5" y="-21.5" width="55" height="43"/><text>PPARA</text></g>
<g id="GLUD1" class="n" transform="translate(507 338)"><rect x="-15" y="-6" width="30" height="12"/><text>GLUD1</text></g>
<g id="SOAT1" class="n" transform="translate(507 388)"><rect x="-40.5" y="-27.5" width="81" height="55"/><text>SOAT1</text></g>
<g id="MTOR" class="n" transform="translate(508 473)"><rect x="-38" y="-34" width="76" height="68"/><text>MTOR</text></g>
<g id="CHRFAM7A" class="n" transform="translate(508 519)"><rect x="-15.5" y="-5.5" width="31" height="11"/><text>CHRFAM7A</text></g>
<g id="NFE2L2" class="n" transform="translate(508 561)"><rect x="-29" y="-23" width="58" height="46"/><text>NFE2L2</text></g>
<g id="GABRG2" class="n" transform="translate(507 606)"><rect x="-12" y="-4" width="24" height="8"/><text>GABRG2</text></g>
<g id="MAPK8" class="n" transform="translate(507 653)"><rect x="-32.5" y="-27.5" width="65" height="55"/><text>MAPK8</text></g>
<g id="PPARG" class="n" transform="translate(507 722)"><rect x="-40.5" y="-35" width="81" height="70"/><text>PPARG</text></g>
<g id="ADAM28" class="n" transform="translate(507 796)"><rect x="-40.5" y="-29" width="81" height="58"/><text>ADAM28</text></g>
<g id="NPPA" class="n" transform="translate(507 849)"><rect x="-27.5" y="-21.5" width="55" height="43"/><text>NPPA</text></g>
<g id="YBX1" class="n" transform="translate(507 890)"><rect x="-12" y="-4" width="24" height="8"/><text>YBX1</text></g>
<g id="PTGER3" class="n" transform="translate(599 55)"><rect x="-40" y="-29" width="80" height="58"/><text>PTGER3</text></g>
<g id="SLC6A2" class="n" transform="translate(599 115)"><rect x="-40" y="-28.5" width="80" height="57"/><text>SLC6A2</text></g>
<g id="KCNJ5" class="n" transform="translate(599 165)"><rect x="-15" y="-6" width="30" height="12"/><text>KCNJ5</text></g>
<g id="IDE" class="n" transform="translate(599 196)"><rect x="-22" y="-13" width="44" height="26"/><text>IDE</text></g>
<g id="GABRA3" class="n" transform="translate(599 246)"><rect x="-40" y="-28.5" width="80" height="57"/><text>GABRA3</text></g>
<g id="TYMP" class="n" transform="translate(599 285)"><rect x="-12" y="-4" width="24" height="8"/><text>TYMP</text></g>
<g id="TNF" class="n" transform="translate(599 323)"><rect x="-27.5" y="-23.5" width="55" height="47"/><text>TNF</text></g>
<g id="FOLR1" class="n" transform="translate(599 377)"><rect x="-40" y="-29" width="80" height="58"/><text>FOLR1</text></g>
<g id="JUN" class="n" transform="translate(600 460)"><rect x="-43" y="-45.5" width="86" height="91"/><text>JUN</text></g>
<g id="SCN4B" class="n" transform="translate(600 527)"><rect x="-22.5" y="-14" width="45" height="28"/><text>SCN4B</text></g>
<g id="NPPB" class="n" transform="translate(600 554)"><rect x="-17.5" y="-8.5" width="35" height="17"/><text>NPPB</text></g>
<g id="FTCD" class="n" transform="translate(600 600)"><rect x="-40" y="-28.5" width="80" height="57"/><text>FTCD</text></g>
<g id="LYZ" class="n" transform="translate(599 645)"><rect x="-20" y="-10" width="40" height="20"/><text>LYZ</text></g>
<g id="PEA15" class="n" transform="translate(600 691)"><rect x="-40" y="-28.5" width="80" height="57"/><text>PEA15</text></g>
<g id="GABRA4" class="n" transform="translate(599 737)"><rect x="-12" y="-4" width="24" height="8"/><text>GABRA4</text></g>
<g id="GRIK1" class="n" transform="translate(599 783)"><rect x="-20" y="-10" width="40" height="20"/><text>GRIK1</text></g>
<g id="HSPA5" class="n" transform="translate(599 829)"><rect x="-34" y="-28.5" width="68" height="57"/><text>HSPA5</text></g>
<g id="KCNJ2" class="n" transform="translate(599 875)"><rect x="-15" y="-6" width="30" height="12"/><text>KCNJ2</text></g>
<g id="GNRH1" class="n" transform="translate(691 93)"><rect x="-12" y="-4" width="24" height="8"/><text>GNRH1</text></g>
<g id="GATM" class="n" transform="translate(691 119)"><rect x="-18" y="-8" width="36" height="16"/><text>GATM</text></g>
<g id="GABRG3" class="n" transform="translate(691 161)"><rect x="-40" y="-29" width="80" height="58"/><text>GABRG3</text></g>
<g id="GRIN2A" class="n" transform="translate(691 211)"><rect x="-12" y="-4" width="24" height="8"/><text>GRIN2A</text></g>
<g id="GRIN1" class="n" transform="translate(691 262)"><rect x="-28.5" y="-25" width="57" height="50"/><text>GRIN1</text></g>
<g id="GLRB" class="n" transform="translate(691 323)"><rect x="-40" y="-28.5" width="80" height="57"/><text>GLRB</text></g>
<g id="CHRM1" class="n" transform="translate(691 369)"><rect x="-15" y="-6" width="30" height="12"/><text>CHRM1</text></g>
<g id="SIRT1" class="n" transform="translate(691 413)"><rect x="-23" y="-15" width="46" height="30"/><text>SIRT1</text></g>
<g id="NFATC1" class="n" transform="translate(691 461)"><rect x="-12" y="-4" width="24" height="8"/><text>NFATC1</text></g>
<g id="CALR" class="n" transform="translate(691 507)"><rect x="-22" y="-13" width="44" height="26"/><text>CALR</text></g>
<g id="GRIN2C" class="n" transform="translate(691 549)"><rect x="-26" y="-16" width="52" height="32"/><text>GRIN2C</text></g>
<g id="GSK3B" class="n" transform="translate(691 610)"><rect x="-31" y="-26.5" width="62" height="53"/><text>GSK3B</text></g>
<g id="GABRD" class="n" transform="translate(691 657)"><rect x="-12" y="-4" width="24" height="8"/><text>GABRD</text></g>
<g id="SUCNR1" class="n" transform="translate(691 703)"><rect x="-40" y="-28.5" width="80" height="57"/><text>SUCNR1</text></g>
<g id="PPT1" class="n" transform="translate(691 771)"><rect x="-40" y="-28.5" width="80" height="57"/><text>PPT1</text></g>
<g id="ADRB1" class="n" transform="translate(691 826)"><rect x="-15" y="-6" width="30" height="12"/><text>ADRB1</text></g>
<g id="NOTCH1" class="n" transform="translate(691 857)"><rect x="-12" y="-4" width="24" height="8"/><text>NOTCH1</text></g>
<g id="MB" class="n" transform="translate(691 875)"><rect x="-20" y="-10" width="40" height="20"/><text>MB</text></g>
<g id="GSTM2" class="n" transform="translate(784 85)"><rect x="-24" y="-13" width="48" height="26"/><text>GSTM2</text></g>
<g id="GLYAT" class="n" transform="translate(784 138)"><rect x="-39" y="-28.5" width="78" height="57"/><text>GLYAT</text></g>
<g id="SCN3A" class="n" transform="translate(784 185)"><rect x="-15" y="-6" width="30" height="12"/><text>SCN3A</text></g>
<g id="NFKB1" class="n" transform="translate(784 247)"><rect x="-39" y="-33.5" width="78" height="67"/><text>NFKB1</text></g>
<g id="MAP3K5" class="n" transform="translate(784 311)"><rect x="-12" y="-4" width="24" height="8"/><text>MAP3K5</text></g>
<g id="PIK3CG" class="n" transform="translate(784 350)"><rect x="-12" y="-4" width="24" height="8"/><text>PIK3CG</text></g>
<g id="PRKAA1" class="n" transform="translate(784 384)"><rect x="-15" y="-6" width="30" height="12"/><text>PRKAA1</text></g>
<g id="ADH7" class="n" transform="translate(784 415)"><rect x="-15" y="-6" width="30" height="12"/><text>ADH7</text></g>
<g id="DRD3" class="n" transform="translate(784 457)"><rect x="-39" y="-28.5" width="78" height="57"/><text>DRD3</text></g>
<g id="ESR1" class="n" transform="translate(790 535)"><rect x="-45" y="-43" width="90" height="86"/><text>ESR1</text></g>
<g id="GOT2" class="n" transform="translate(784 599)"><rect x="-22" y="-12" width="44" height="24"/><text>GOT2</text></g>
<g id="CACNA1D" class="n" transform="translate(784 640)"><rect x="-22" y="-15" width="44" height="30"/><text>CACNA1D</text></g>
<g id="GAD1" class="n" transform="translate(784 680)"><rect x="-20" y="-11" width="40" height="22"/><text>GAD1</text></g>
<g id="AKR1B1" class="n" transform="translate(784 711)"><rect x="-18" y="-8" width="36" height="16"/><text>AKR1B1</text></g>
<g id="ADH1B" class="n" transform="translate(784 745)"><rect x="-24.5" y="-17" width="49" height="34"/><text>ADH1B</text></g>
<g id="CCL2" class="n" transform="translate(784 784)"><rect x="-26.5" y="-20" width="53" height="40"/><text>CCL2</text></g>
<g id="BCL2" class="n" transform="translate(784 834)"><rect x="-31.5" y="-26" width="63" height="52"/><text>BCL2</text></g>
<g id="AR" class="n" transform="translate(784 889)"><rect x="-31.5" y="-27" width="63" height="54"/><text>AR</text></g>
<g id="VDR" class="n" transform="translate(876 53)"><rect x="-40" y="-28.5" width="80" height="57"/><text>VDR</text></g>
<g id="MAOB" class="n" transform="translate(875 118)"><rect x="-37" y="-33.5" width="74" height="67"/><text>MAOB</text></g>
<g id="ABCC2" class="n" transform="translate(876 185)"><rect x="-40" y="-28.5" width="80" height="57"/><text>ABCC2</text></g>
<g id="GRM7" class="n" transform="translate(875 231)"><rect x="-12" y="-4" width="24" height="8"/><text>GRM7</text></g>
<g id="APOA1" class="n" transform="translate(875 277)"><rect x="-15" y="-6" width="30" height="12"/><text>APOA1</text></g>
<g id="NR3C2" class="n" transform="translate(875 303)"><rect x="-12" y="-4" width="24" height="8"/><text>NR3C2</text></g>
<g id="SLC6A3" class="n" transform="translate(875 329)"><rect x="-15" y="-6" width="30" height="12"/><text>SLC6A3</text></g>
<g id="PLA2G1B" class="n" transform="translate(881 371)"><rect x="-39" y="-26.5" width="78" height="53"/><text>PLA2G1B</text></g>
<g id="NFKBIA" class="n" transform="translate(882 438)"><rect x="-30" y="-23.5" width="60" height="47"/><text>NFKBIA</text></g>
<g id="NCOA1" class="n" transform="translate(875 487)"><rect x="-12" y="-4" width="24" height="8"/><text>NCOA1</text></g>
<g id="SERPINE1" class="n" transform="translate(875 518)"><rect x="-12" y="-4" width="24" height="8"/><text>SERPINE1</text></g>
<g id="ACHE" class="n" transform="translate(875 545)"><rect x="-15" y="-6" width="30" height="12"/><text>ACHE</text></g>
<g id="DHODH" class="n" transform="translate(876 591)"><rect x="-40" y="-28.5" width="80" height="57"/><text>DHODH</text></g>
<g id="AKR1D1" class="n" transform="translate(876 656)"><rect x="-40" y="-28.5" width="80" height="57"/><text>AKR1D1</text></g>
<g id="SLC1A3" class="n" transform="translate(876 722)"><rect x="-40" y="-28.5" width="80" height="57"/><text>SLC1A3</text></g>
<g id="NRP1" class="n" transform="translate(876 784)"><rect x="-18" y="-8.5" width="36" height="17"/><text>NRP1</text></g>
<g id="ADRA1A" class="n" transform="translate(876 829)"><rect x="-18" y="-8" width="36" height="16"/><text>ADRA1A</text></g>
<g id="GMPPB" class="n" transform="translate(876 875)"><rect x="-40" y="-28.5" width="80" height="57"/><text>GMPPB</text></g>
<g id="ALDH5A1" class="n" transform="translate(967 49)"><rect x="-39" y="-27" width="78" height="54"/><text>ALDH5A1</text></g>
<g id="ENO2" class="n" transform="translate(967 110)"><rect x="-39" y="-27" width="78" height="54"/><text>ENO2</text></g>
<g id="CHRNA7" class="n" transform="translate(967 162)"><rect x="-12" y="-4" width="24" height="8"/><text>CHRNA7</text></g>
<g id="PRDX2" class="n" transform="translate(967 185)"><rect x="-12" y="-4" width="24" height="8"/><text>PRDX2</text></g>
<g id="CHRM4" class="n" transform="translate(967 239)"><rect x="-39" y="-28.5" width="78" height="57"/><text>CHRM4</text></g>
<g id="TFF2" class="n" transform="translate(967 305)"><rect x="-39" y="-28.5" width="78" height="57"/><text>TFF2</text></g>
<g id="TLR4" class="n" transform="translate(968 370)"><rect x="-30" y="-23.5" width="60" height="47"/><text>TLR4</text></g>
<g id="ALOX5" class="n" transform="translate(967 415)"><rect x="-12" y="-4" width="24" height="8"/><text>ALOX5</text></g>
<g id="HCRT" class="n" transform="translate(967 461)"><rect x="-15" y="-6" width="30" height="12"/><text>HCRT</text></g>
<g id="ADRA2A" class="n" transform="translate(967 507)"><rect x="-39" y="-28.5" width="78" height="57"/><text>ADRA2A</text></g>
<g id="APRT" class="n" transform="translate(967 553)"><rect x="-20" y="-10" width="40" height="20"/><text>APRT</text></g>
<g id="GSTM1" class="n" transform="translate(967 588)"><rect x="-15" y="-6" width="30" height="12"/><text>GSTM1</text></g>
<g id="CHRNA5" class="n" transform="translate(967 645)"><rect x="-39" y="-28.5" width="78" height="57"/><text>CHRNA5</text></g>
<g id="GLUL" class="n" transform="translate(967 691)"><rect x="-12" y="-4" width="24" height="8"/><text>GLUL</text></g>
<g id="S1PR3" class="n" transform="translate(967 737)"><rect x="-39" y="-28.5" width="78" height="57"/><text>S1PR3</text></g>
<g id="GABRB2" class="n" transform="translate(967 783)"><rect x="-12" y="-4" width="24" height="8"/><text>GABRB2</text></g>
<g id="NAGA" class="n" transform="translate(967 829)"><rect x="-39" y="-29" width="78" height="58"/><text>NAGA</text></g>
<g id="ARG2" class="n" transform="translate(967 875)"><rect x="-22" y="-12" width="44" height="24"/><text>ARG2</text></g>
<g id="STAT3" class="n" transform="translate(1062 77)"><rect x="-44" y="-43" width="88" height="86"/><text>STAT3</text></g>
<g id="NR1H2" class="n" transform="translate(1060 150)"><rect x="-12" y="-4" width="24" height="8"/><text>NR1H2</text></g>
<g id="CHRM3" class="n" transform="translate(1060 185)"><rect x="-12" y="-4" width="24" height="8"/><text>CHRM3</text></g>
<g id="DNER" class="n" transform="translate(1060 231)"><rect x="-40" y="-28.5" width="80" height="57"/><text>DNER</text></g>
<g id="BACE1" class="n" transform="translate(1060 277)"><rect x="-12" y="-4" width="24" height="8"/><text>BACE1</text></g>
<g id="PRKAA2" class="n" transform="translate(1060 323)"><rect x="-12" y="-4" width="24" height="8"/><text>PRKAA2</text></g>
<g id="ARF1" class="n" transform="translate(1060 369)"><rect x="-12" y="-4" width="24" height="8"/><text>ARF1</text></g>
<g id="CTBP2" class="n" transform="translate(1060 415)"><rect x="-15" y="-6" width="30" height="12"/><text>CTBP2</text></g>
<g id="CHUK" class="n" transform="translate(1060 461)"><rect x="-32" y="-24" width="64" height="48"/><text>CHUK</text></g>
<g id="ABCG5" class="n" transform="translate(1060 507)"><rect x="-12" y="-4" width="24" height="8"/><text>ABCG5</text></g>
<g id="GPR137" class="n" transform="translate(1060 553)"><rect x="-40" y="-28.5" width="80" height="57"/><text>GPR137</text></g>
<g id="CACNA1C" class="n" transform="translate(1060 599)"><rect x="-12" y="-4" width="24" height="8"/><text>CACNA1C</text></g>
<g id="PPARD" class="n" transform="translate(1060 645)"><rect x="-12" y="-4" width="24" height="8"/><text>PPARD</text></g>
<g id="KCNH2" class="n" transform="translate(1060 691)"><rect x="-18" y="-8" width="36" height="16"/><text>KCNH2</text></g>
<g id="ATF6" class="n" transform="translate(1060 737)"><rect x="-21" y="-11" width="42" height="22"/><text>ATF6</text></g>
<g id="MAP2" class="n" transform="translate(1060 783)"><rect x="-40" y="-28.5" width="80" height="57"/><text>MAP2</text></g>
<g id="GPBAR1" class="n" transform="translate(1060 829)"><rect x="-12" y="-4" width="24" height="8"/><text>GPBAR1</text></g>
<g id="TXN" class="n" transform="translate(1060 875)"><rect x="-20" y="-11" width="40" height="22"/><text>TXN</text></g>
<g id="PLA2G5" class="n" transform="translate(1161 44)"><rect x="-39.5" y="-28" width="79" height="56"/><text>PLA2G5</text></g>
<g id="PLA2G7" class="n" transform="translate(1152 93)"><rect x="-12" y="-4" width="24" height="8"/><text>PLA2G7</text></g>
<g id="LTA4H" class="n" transform="translate(1152 139)"><rect x="-12" y="-4" width="24" height="8"/><text>LTA4H</text></g>
<g id="ESRRG" class="n" transform="translate(1152 185)"><rect x="-18" y="-7" width="36" height="14"/><text>ESRRG</text></g>
<g id="CCL8" class="n" transform="translate(1152 231)"><rect x="-20" y="-10" width="40" height="20"/><text>CCL8</text></g>
<g id="TGFB1" class="n" transform="translate(1152 277)"><rect x="-20" y="-10" width="40" height="20"/><text>TGFB1</text></g>
<g id="GCG" class="n" transform="translate(1152 323)"><rect x="-27.5" y="-21" width="55" height="42"/><text>GCG</text></g>
<g id="GABRB3" class="n" transform="translate(1152 369)"><rect x="-27.5" y="-18" width="55" height="36"/><text>GABRB3</text></g>
<g id="ADH1C" class="n" transform="translate(1152 415)"><rect x="-25" y="-15" width="50" height="30"/><text>ADH1C</text></g>
<g id="GLP1R" class="n" transform="translate(1153 461)"><rect x="-20" y="-11" width="40" height="22"/><text>GLP1R</text></g>
<g id="SLC8A1" class="n" transform="translate(1152 507)"><rect x="-16" y="-6" width="32" height="12"/><text>SLC8A1</text></g>
<g id="HDAC6" class="n" transform="translate(1152 553)"><rect x="-16" y="-6" width="32" height="12"/><text>HDAC6</text></g>
<g id="NPC1L1" class="n" transform="translate(1152 599)"><rect x="-16" y="-6" width="32" height="12"/><text>NPC1L1</text></g>
<g id="PTGER4" class="n" transform="translate(1152 645)"><rect x="-12" y="-4" width="24" height="8"/><text>PTGER4</text></g>
<g id="GLB1" class="n" transform="translate(1152 691)"><rect x="-20" y="-10" width="40" height="20"/><text>GLB1</text></g>
<g id="NR1H3" class="n" transform="translate(1152 737)"><rect x="-12" y="-4" width="24" height="8"/><text>NR1H3</text></g>
<g id="GSTP1" class="n" transform="translate(1152 783)"><rect x="-15" y="-6" width="30" height="12"/><text>GSTP1</text></g>
<g id="MAOA" class="n" transform="translate(1152 833)"><rect x="-36" y="-32.5" width="72" height="65"/><text>MAOA</text></g>
<g id="IL4I1" class="n" transform="translate(1152 893)"><rect x="-22" y="-13" width="44" height="26"/><text>IL4I1</text></g>
<g id="RHO" class="n" transform="translate(1256 32)"><rect x="-41" y="-28" width="82" height="56"/><text>RHO</text></g>
<g id="PLAU" class="n" transform="translate(1244 93)"><rect x="-12" y="-4" width="24" height="8"/><text>PLAU</text></g>
<g id="GRIK5" class="n" transform="translate(1244 139)"><rect x="-15" y="-6" width="30" height="12"/><text>GRIK5</text></g>
<g id="ALB" class="n" transform="translate(1243 185)"><rect x="-29.5" y="-27" width="59" height="54"/><text>ALB</text></g>
<g id="TLR8" class="n" transform="translate(1242 250)"><rect x="-40" y="-28.5" width="80" height="57"/><text>TLR8</text></g>
<g id="EDN1" class="n" transform="translate(1242 323)"><rect x="-40" y="-28.5" width="80" height="57"/><text>EDN1</text></g>
<g id="GRIA2" class="n" transform="translate(1244 369)"><rect x="-17" y="-7" width="34" height="14"/><text>GRIA2</text></g>
<g id="ADH6" class="n" transform="translate(1244 415)"><rect x="-18" y="-8" width="36" height="16"/><text>ADH6</text></g>
<g id="ADRA1D" class="n" transform="translate(1244 461)"><rect x="-17.5" y="-9.5" width="35" height="19"/><text>ADRA1D</text></g>
<g id="SLC7A11" class="n" transform="translate(1245 507)"><rect x="-40" y="-28.5" width="80" height="57"/><text>SLC7A11</text></g>
<g id="TFAM" class="n" transform="translate(1244 553)"><rect x="-20" y="-11" width="40" height="22"/><text>TFAM</text></g>
<g id="IGHG1" class="n" transform="translate(1245 599)"><rect x="-40" y="-28.5" width="80" height="57"/><text>IGHG1</text></g>
<g id="GABBR1" class="n" transform="translate(1244 653)"><rect x="-20" y="-10" width="40" height="20"/><text>GABBR1</text></g>
<g id="GRIN3B" class="n" transform="translate(1244 691)"><rect x="-26" y="-17" width="52" height="34"/><text>GRIN3B</text></g>
<g id="NOS2" class="n" transform="translate(1244 737)"><rect x="-12" y="-4" width="24" height="8"/><text>NOS2</text></g>
<g id="CASP3" class="n" transform="translate(1244 783)"><rect x="-34" y="-28.5" width="68" height="57"/><text>CASP3</text></g>
<g id="PTK2B" class="n" transform="translate(1244 826)"><rect x="-12" y="-4" width="24" height="8"/><text>PTK2B</text></g>
<g id="PPARGC1A" class="n" transform="translate(1252 883)"><rect x="-42.5" y="-40" width="85" height="80"/><text>PPARGC1A</text></g>
<g id="RTCB" class="n" transform="translate(1329 77)"><rect x="-39" y="-28.5" width="78" height="57"/><text>RTCB</text></g>
<g id="FOS" class="n" transform="translate(1334 143)"><rect x="-36" y="-31.5" width="72" height="63"/><text>FOS</text></g>
<g id="SLC29A1" class="n" transform="translate(1337 220)"><rect x="-40" y="-28.5" width="80" height="57"/><text>SLC29A1</text></g>
<g id="PTGER1" class="n" transform="translate(1336 277)"><rect x="-12" y="-4" width="24" height="8"/><text>PTGER1</text></g>
<g id="PVALB" class="n" transform="translate(1336 323)"><rect x="-12" y="-4" width="24" height="8"/><text>PVALB</text></g>
<g id="HSF1" class="n" transform="translate(1336 369)"><rect x="-18" y="-8" width="36" height="16"/><text>HSF1</text></g>
<g id="TAS1R2" class="n" transform="translate(1336 392)"><rect x="-12" y="-4" width="24" height="8"/><text>TAS1R2</text></g>
<g id="RELA" class="n" transform="translate(1337 461)"><rect x="-42" y="-39.5" width="84" height="79"/><text>RELA</text></g>
<g id="GABRA2" class="n" transform="translate(1336 519)"><rect x="-12" y="-4" width="24" height="8"/><text>GABRA2</text></g>
<g id="TYMS" class="n" transform="translate(1336 553)"><rect x="-12" y="-4" width="24" height="8"/><text>TYMS</text></g>
<g id="TRPC6" class="n" transform="translate(1337 600)"><rect x="-40" y="-28.5" width="80" height="57"/><text>TRPC6</text></g>
<g id="LTF" class="n" transform="translate(1337 645)"><rect x="-23" y="-15" width="46" height="30"/><text>LTF</text></g>
<g id="VWF" class="n" transform="translate(1336 691)"><rect x="-17" y="-8" width="34" height="16"/><text>VWF</text></g>
<g id="PTGS1" class="n" transform="translate(1336 737)"><rect x="-22" y="-13" width="44" height="26"/><text>PTGS1</text></g>
<g id="CASP9" class="n" transform="translate(1336 783)"><rect x="-23" y="-14" width="46" height="28"/><text>CASP9</text></g>
<g id="NFATC4" class="n" transform="translate(1337 839)"><rect x="-40" y="-28.5" width="80" height="57"/><text>NFATC4</text></g>
<g id="LY96" class="n" transform="translate(1336 898)"><rect x="-12" y="-4" width="24" height="8"/><text>LY96</text></g>
<g id="KLHL1" class="n" transform="translate(1432 42)"><rect x="-40" y="-28.5" width="80" height="57"/><text>KLHL1</text></g>
<g id="PDE3A" class="n" transform="translate(1429 93)"><rect x="-18" y="-9" width="36" height="18"/><text>PDE3A</text></g>
<g id="NR1I2" class="n" transform="translate(1429 139)"><rect x="-20" y="-11" width="40" height="22"/><text>NR1I2</text></g>
<g id="VLDLR" class="n" transform="translate(1429 185)"><rect x="-16" y="-6" width="32" height="12"/><text>VLDLR</text></g>
<g id="PIK3CB" class="n" transform="translate(1430 231)"><rect x="-30" y="-24" width="60" height="48"/><text>PIK3CB</text></g>
<g id="CHRM2" class="n" transform="translate(1428 277)"><rect x="-12" y="-4" width="24" height="8"/><text>CHRM2</text></g>
<g id="CCL22" class="n" transform="translate(1428 323)"><rect x="-12" y="-4" width="24" height="8"/><text>CCL22</text></g>
<g id="PRKACA" class="n" transform="translate(1432 370)"><rect x="-34.5" y="-28" width="69" height="56"/><text>PRKACA</text></g>
<g id="F10" class="n" transform="translate(1428 415)"><rect x="-14" y="-6" width="28" height="12"/><text>F10</text></g>
<g id="EGF" class="n" transform="translate(1428 461)"><rect x="-20" y="-11" width="40" height="22"/><text>EGF</text></g>
<g id="ODC1" class="n" transform="translate(1428 507)"><rect x="-12" y="-4" width="24" height="8"/><text>ODC1</text></g>
<g id="PRKCA" class="n" transform="translate(1428 538)"><rect x="-20" y="-10" width="40" height="20"/><text>PRKCA</text></g>
<g id="GLRA1" class="n" transform="translate(1429 600)"><rect x="-39" y="-28.5" width="78" height="57"/><text>GLRA1</text></g>
<g id="ADH4" class="n" transform="translate(1428 645)"><rect x="-20" y="-11" width="40" height="22"/><text>ADH4</text></g>
<g id="ADORA2B" class="n" transform="translate(1428 691)"><rect x="-12" y="-4" width="24" height="8"/><text>ADORA2B</text></g>
<g id="ACTB" class="n" transform="translate(1429 727)"><rect x="-26.5" y="-19" width="53" height="38"/><text>ACTB</text></g>
<g id="MAP2K1" class="n" transform="translate(1429 772)"><rect x="-24.5" y="-17" width="49" height="34"/><text>MAP2K1</text></g>
<g id="NPEPPS" class="n" transform="translate(1429 830)"><rect x="-40" y="-28.5" width="80" height="57"/><text>NPEPPS</text></g>
<g id="ABCG8" class="n" transform="translate(1429 876)"><rect x="-18" y="-8.5" width="36" height="17"/><text>ABCG8</text></g>
<g id="LRP8" class="n" transform="translate(1520 93)"><rect x="-16" y="-6" width="32" height="12"/><text>LRP8</text></g>
<g id="ACTA1" class="n" transform="translate(1521 139)"><rect x="-18" y="-8.5" width="36" height="17"/><text>ACTA1</text></g>
<g id="PIK3CD" class="n" transform="translate(1520 179)"><rect x="-28.5" y="-28.5" width="57" height="57"/><text>PIK3CD</text></g>
<g id="APP" class="n" transform="translate(1520 231)"><rect x="-28.5" y="-23" width="57" height="46"/><text>APP</text></g>
<g id="SCN11A" class="n" transform="translate(1520 277)"><rect x="-12" y="-4" width="24" height="8"/><text>SCN11A</text></g>
<g id="CYP2C9" class="n" transform="translate(1520 323)"><rect x="-12" y="-4" width="24" height="8"/><text>CYP2C9</text></g>
<g id="VIM" class="n" transform="translate(1520 369)"><rect x="-15" y="-6" width="30" height="12"/><text>VIM</text></g>
<g id="F12" class="n" transform="translate(1518 411)"><rect x="-40" y="-28.5" width="80" height="57"/><text>F12</text></g>
<g id="GAP43" class="n" transform="translate(1522 485)"><rect x="-40" y="-28.5" width="80" height="57"/><text>GAP43</text></g>
<g id="SPARC" class="n" transform="translate(1520 553)"><rect x="-12" y="-4" width="24" height="8"/><text>SPARC</text></g>
<g id="WNT1" class="n" transform="translate(1520 599)"><rect x="-16" y="-6" width="32" height="12"/><text>WNT1</text></g>
<g id="CYP3A4" class="n" transform="translate(1521 645)"><rect x="-36.5" y="-31" width="73" height="62"/><text>CYP3A4</text></g>
<g id="GABRG1" class="n" transform="translate(1520 691)"><rect x="-12" y="-4" width="24" height="8"/><text>GABRG1</text></g>
<g id="ADH5" class="n" transform="translate(1521 738)"><rect x="-20" y="-11" width="40" height="22"/><text>ADH5</text></g>
<g id="HTR3B" class="n" transform="translate(1520 783)"><rect x="-14" y="-4" width="28" height="8"/><text>HTR3B</text></g>
<g id="GRIN3A" class="n" transform="translate(1521 830)"><rect x="-27" y="-20" width="54" height="40"/><text>GRIN3A</text></g>
<g id="SCN5A" class="n" transform="translate(1521 876)"><rect x="-22" y="-14" width="44" height="28"/><text>SCN5A</text></g>
</g>
<g id="compounds" class="c">
<g id="ID_445858" transform="translate(492 972)"><use href="#oct"/><text>ID:445858</text></g>
<g id="ID_13849" transform="translate(584 972)"><use href="#oct"/><text>ID:13849</text></g>
<g id="ID_1110" transform="translate(676 972)"><use href="#oct"/><text>ID:1110</text></g>
<g id="ID_5280794" transform="translate(769 972)"><ellipse rx="40.2" ry="28.7" fill="#d6b6d9" stroke="#c9a6cc" stroke-width="0.5"/><text>ID:5280794</text></g>
<g id="ID_5742590" transform="translate(861 971)"><use href="#hex" style="fill:#e0369e"/><text>ID:5742590</text></g>
<g id="ID_3084097" transform="translate(953 971)"><use href="#hex" style="fill:#e0369e"/><text>ID:3084097</text></g>
<g id="ID_8215" transform="translate(492 1037)"><use href="#oct"/><text>ID:8215</text></g>
<g id="ID_24981346" transform="translate(584 1037)"><use href="#oct"/><text>ID:24981346</text></g>
<g id="ID_14486934" transform="translate(676 1037)"><use href="#oct"/><text>ID:14486934</text></g>
<g id="ID_222284" transform="translate(769 1037)"><use href="#oct"/><text>ID:222284</text></g>
<g id="ID_643801" transform="translate(861 1037)"><use href="#oct"/><text>ID:643801</text></g>
<g id="ID_53399246" transform="translate(953 1037)"><use href="#oct"/><text>ID:53399246</text></g>
<g id="ID_6251" transform="translate(492 1102)"><use href="#oct"/><text>ID:6251</text></g>
<g id="ID_5705531" transform="translate(584 1102)"><use href="#oct"/><text>ID:5705531</text></g>
<g id="ID_91458" transform="translate(676 1102)"><use href="#oct"/><text>ID:91458</text></g>
<g id="ID_5281800" transform="translate(769 1102)"><use href="#oct"/><text>ID:5281800</text></g>
<g id="ID_10467" transform="translate(861 1102)"><use href="#oct"/><text>ID:10467</text></g>
<g id="ID_445638" transform="translate(953 1102)"><use href="#oct"/><text>ID:445638</text></g>
<g id="ID_6029" transform="translate(492 1167)"><use href="#oct"/><text>ID:6029</text></g>
<g id="ID_5460660" transform="translate(584 1167)"><use href="#oct"/><text>ID:5460660</text></g>
<g id="ID_45356795" transform="translate(676 1167)"><use href="#oct"/><text>ID:45356795</text></g>
<g id="ID_5281773" transform="translate(769 1167)"><use href="#oct"/><text>ID:5281773</text></g>
<g id="ID_7405" transform="translate(861 1167)"><use href="#oct"/><text>ID:7405</text></g>
<g id="ID_6030" transform="translate(953 1167)"><use href="#oct"/><text>ID:6030</text></g>
<g id="ID_5988" transform="translate(492 1231)"><use href="#oct"/><text>ID:5988</text></g>
<g id="ID_138107792" transform="translate(584 1231)"><use href="#oct"/><text>ID:138107792</text></g>
<g id="ID_3931" transform="translate(676 1231)"><use href="#oct"/><text>ID:3931</text></g>
<g id="ID_15693864" transform="translate(769 1231)"><use href="#oct"/><text>ID:15693864</text></g>
<g id="ID_499" transform="translate(861 1231)"><use href="#oct"/><text>ID:499</text></g>
<g id="ID_5280450" transform="translate(953 1231)"><use href="#oct"/><text>ID:5280450</text></g>
<g id="ID_10542" transform="translate(492 1296)"><use href="#oct"/><text>ID:10542</text></g>
<g id="ID_7820" transform="translate(584 1296)"><use href="#oct"/><text>ID:7820</text></g>
<g id="ID_54600129" transform="translate(676 1296)"><use href="#oct"/><text>ID:54600129</text></g>
<g id="ID_15693863" transform="translate(769 1296)"><use href="#oct"/><text>ID:15693863</text></g>
<g id="ID_5320903" transform="translate(861 1296)"><use href="#oct"/><text>ID:5320903</text></g>
<g id="ID_439531" transform="translate(953 1296)"><use href="#oct"/><text>ID:439531</text></g>
<g id="ID_439685" transform="translate(492 1361)"><use href="#oct"/><text>ID:439685</text></g>
<g id="ID_24721256" transform="translate(584 1361)"><use href="#oct"/><text>ID:24721256</text></g>
<g id="ID_11005647" transform="translate(676 1361)"><use href="#oct"/><text>ID:11005647</text></g>
<g id="ID_53301851" transform="translate(769 1361)"><use href="#oct"/><text>ID:53301851</text></g>
<g id="ID_11252659" transform="translate(861 1361)"><use href="#oct"/><text>ID:11252659</text></g>
<g id="ID_439242" transform="translate(953 1361)"><use href="#oct"/><text>ID:439242</text></g>
<g id="ID_3893" transform="translate(492 1426)"><use href="#oct"/><text>ID:3893</text></g>
<g id="ID_137706142" transform="translate(584 1426)"><use href="#oct"/><text>ID:137706142</text></g>
<g id="ID_107848" transform="translate(676 1426)"><use href="#oct"/><text>ID:107848</text></g>
</g>
</g>
</svg>
